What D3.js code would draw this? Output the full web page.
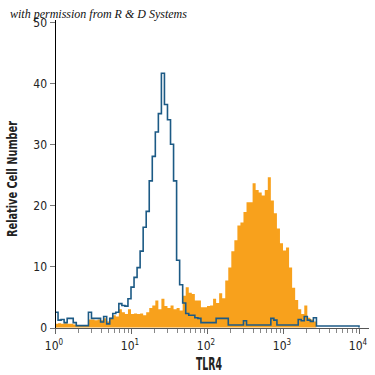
<!DOCTYPE html>
<html>
<head>
<meta charset="utf-8">
<script src="https://cdn.jsdelivr.net/npm/d3@7"></script>
<style>
  body { margin: 0; background: #fff; }
  svg { display: block; }
</style>
</head>
<body>
<svg id="chart" width="375" height="375"></svg>
<script>
// histogram channels: 100 bins per 4 decades (0.04 decade each)
var binsPerDecade = 25;

var isotypeCounts = [
  2.5, 1.2, 1.3, 0.8, 1.5, 1.5, 0.8, 0.3, 0.3, 0.3,
  0.3, 2.5, 1.5, 1.5, 1.5, 0.9, 1.8, 0.6, 1.5, 2.3,
  2.5, 3.9, 3.6, 3.5, 4.7, 6.6, 8.2, 9.8, 12.5, 16.4,
  19, 24, 28, 32, 35, 41.6, 36.5, 34, 30, 24,
  11, 7, 4, 2.3, 2.0, 2.0, 1.6, 1.5, 0.8, 0.8,
  0.8, 0.8, 0.8, 1.5, 1.5, 1.5, 1.5, 0.4, 0.4, 0.4,
  0.4, 0.4, 1.1, 0.4, 0.4, 0.4, 0.4, 0.4, 0.4, 0.4,
  0.4, 1.5, 1.2, 0.4, 0.4, 0.4, 0.4, 0.4, 0.4, 0.4,
  1.3, 1.1, 1.8, 1.2, 1.0, 1.6, 0.25, 0.25, 0.25, 0.25,
  0.25, 0.25, 0.25, 0.25, 0.25, 0.25, 0.25, 0.25, 0.25, 0.25
];

var tlr4Counts = [
  0.6, 0.7, 0.6, 0.7, 0.6, 0.6, 0.5, 0.3, 0.3, 0.4,
  0.4, 1.3, 1.3, 1.2, 1.3, 1.2, 1.5, 1.0, 1.6, 2.0,
  1.8, 3.0, 2.5, 2.2, 3.0, 2.2, 2.3, 2.2, 2.3, 2.0,
  2.5, 3.2, 3.6, 4.4, 3.0, 4.7, 3.5, 3.2, 3.6, 3.0,
  3.2, 2.8, 5.2, 6.6, 5.7, 5.5, 4.4, 4.4, 3.3, 3.3,
  3.5, 3.6, 4.7, 4.0, 5.6, 4.8, 7.7, 9.8, 12.5, 14.3,
  16.7, 17.2, 18.9, 20.5, 20.5, 23.6, 22.5, 22.1, 21.6, 22.5,
  24.6, 20.8, 18.7, 16.2, 13.8, 12.6, 13.1, 9.8, 6.5, 4.5,
  3.0, 2.2, 3.6, 1.6, 1.3, 1.0, 0, 0, 0, 0,
  0, 0, 0, 0, 0, 0, 0, 0, 0, 0
];

var yTicks = [0, 10, 20, 30, 40, 50];
var xDecades = [0, 1, 2, 3, 4];

var svg = d3.select('#chart');
var font = '"Liberation Sans Narrow", "DejaVu Sans Condensed", sans-serif';

var x = d3.scaleLog().domain([1, 1e4]).range([55, 359]);
var y = d3.scaleLinear().domain([0, 50]).range([327.5, 22]);

function edges(counts) {
  var pts = counts.map(function(c, i) {
    return [Math.pow(10, i / binsPerDecade), c];
  });
  pts.push([1e4, counts[counts.length - 1]]);
  return pts;
}

// TLR4 filled histogram
var area = d3.area()
  .x(function(d) { return x(d[0]); })
  .y0(y(0))
  .y1(function(d) { return y(d[1]); })
  .curve(d3.curveStepAfter);

svg.append('path')
  .datum(edges(tlr4Counts))
  .attr('d', area)
  .attr('fill', '#F8A11C');

// isotype control outline
var line = d3.line()
  .x(function(d) { return x(d[0]); })
  .y(function(d) { return y(d[1]); })
  .curve(d3.curveStepAfter);

var isoPts = edges(isotypeCounts);
isoPts.push([1e4, 0]);
svg.append('path')
  .datum(isoPts)
  .attr('d', line)
  .attr('fill', 'none')
  .attr('stroke', '#1C5A85')
  .attr('stroke-width', 1.6);

// y axis
var yAxis = svg.append('g');
yAxis.append('line')
  .attr('x1', 55.5).attr('x2', 55.5)
  .attr('y1', 20).attr('y2', 328)
  .attr('stroke', '#000');
yAxis.selectAll('.yt').data(yTicks).enter().append('line')
  .attr('x1', 50).attr('x2', 55)
  .attr('y1', function(d) { return Math.round(y(d)) + 0.5; })
  .attr('y2', function(d) { return Math.round(y(d)) + 0.5; })
  .attr('stroke', '#777');
yAxis.selectAll('.yl').data(yTicks).enter().append('text')
  .attr('x', 47)
  .attr('y', function(d) { return y(d) + 4.5; })
  .attr('text-anchor', 'end')
  .attr('font-family', font)
  .attr('font-size', 12)
  .attr('fill', '#222')
  .text(function(d) { return d; });

svg.append('text')
  .attr('transform', 'translate(17,179) rotate(-90)')
  .attr('text-anchor', 'middle')
  .attr('font-family', font)
  .attr('font-weight', 'bold')
  .attr('font-size', 14.5)
  .attr('textLength', 116)
  .attr('lengthAdjust', 'spacingAndGlyphs')
  .attr('fill', '#222')
  .text('Relative Cell Number');

// x axis
var xAxis = svg.append('g');
xAxis.append('line')
  .attr('x1', 55).attr('x2', 369)
  .attr('y1', 328.5).attr('y2', 328.5)
  .attr('stroke', '#555');

var minor = [];
xDecades.slice(0, 4).forEach(function(p) {
  for (var m = 2; m <= 9; m++) minor.push(m * Math.pow(10, p));
});
xAxis.selectAll('.xm').data(minor).enter().append('line')
  .attr('x1', function(d) { return Math.round(x(d)) + 0.5; })
  .attr('x2', function(d) { return Math.round(x(d)) + 0.5; })
  .attr('y1', 329).attr('y2', 333)
  .attr('stroke', '#888');
xAxis.selectAll('.xt').data(xDecades).enter().append('line')
  .attr('x1', function(d) { return Math.round(x(Math.pow(10, d))) + 0.5; })
  .attr('x2', function(d) { return Math.round(x(Math.pow(10, d))) + 0.5; })
  .attr('y1', 329).attr('y2', 334)
  .attr('stroke', '#666');

var xl = xAxis.selectAll('.xl').data(xDecades).enter().append('text')
  .attr('x', function(d) { return x(Math.pow(10, d)) - 1; })
  .attr('y', 350)
  .attr('text-anchor', 'middle')
  .attr('font-family', font)
  .attr('font-size', 12)
  .attr('fill', '#222');
xl.append('tspan').text('10');
xl.append('tspan')
  .attr('font-size', 8)
  .attr('dy', -5)
  .text(function(d) { return d; });

svg.append('text')
  .attr('x', 209)
  .attr('y', 370)
  .attr('text-anchor', 'middle')
  .attr('font-family', font)
  .attr('font-weight', 'bold')
  .attr('font-size', 17)
  .attr('textLength', 26)
  .attr('lengthAdjust', 'spacingAndGlyphs')
  .attr('fill', '#222')
  .text('TLR4');

// credit line
svg.append('text')
  .attr('x', 10)
  .attr('y', 18)
  .attr('font-family', '"Liberation Serif", "DejaVu Serif", serif')
  .attr('font-style', 'italic')
  .attr('font-size', 12)
  .attr('fill', '#111')
  .text('with permission from R & D Systems');
</script>
</body>
</html>
